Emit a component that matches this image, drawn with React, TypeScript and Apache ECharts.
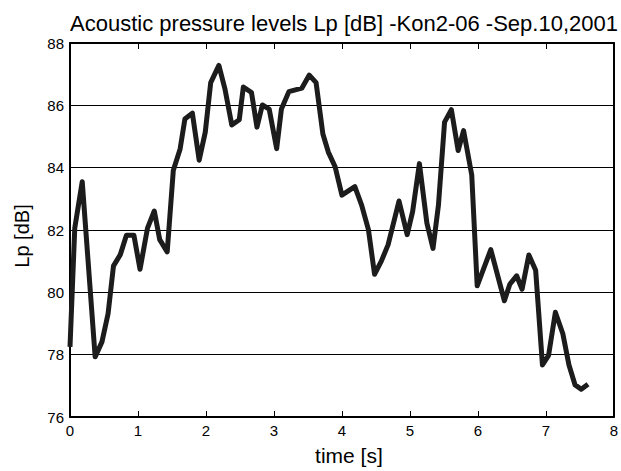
import React, { useEffect, useRef } from "react";
import * as echarts from "echarts";

const times = [0.0, 0.07, 0.18, 0.37, 0.47, 0.56, 0.64, 0.74, 0.83, 0.94, 1.03, 1.14, 1.24, 1.32, 1.43, 1.52, 1.62, 1.69, 1.8, 1.9, 1.99, 2.07, 2.19, 2.28, 2.38, 2.49, 2.55, 2.67, 2.75, 2.83, 2.93, 3.04, 3.11, 3.22, 3.41, 3.52, 3.62, 3.72, 3.8, 3.9, 4.0, 4.19, 4.29, 4.39, 4.48, 4.58, 4.68, 4.84, 4.96, 5.04, 5.14, 5.25, 5.34, 5.42, 5.51, 5.61, 5.71, 5.79, 5.91, 5.99, 6.19, 6.39, 6.47, 6.57, 6.65, 6.75, 6.85, 6.95, 7.04, 7.14, 7.25, 7.34, 7.43, 7.52, 7.62];
const levels = [78.25, 82.06, 83.55, 77.93, 78.41, 79.31, 80.85, 81.21, 81.83, 81.83, 80.74, 82.06, 82.61, 81.69, 81.3, 83.92, 84.6, 85.56, 85.75, 84.24, 85.14, 86.73, 87.28, 86.52, 85.37, 85.54, 86.59, 86.41, 85.3, 86.01, 85.88, 84.61, 85.88, 86.44, 86.55, 86.97, 86.73, 85.08, 84.5, 84.03, 83.12, 83.39, 82.8, 82.01, 80.58, 81.0, 81.53, 82.93, 81.85, 82.59, 84.13, 82.22, 81.41, 82.8, 85.46, 85.86, 84.55, 85.19, 83.76, 80.21, 81.37, 79.73, 80.26, 80.53, 80.1, 81.2, 80.71, 77.67, 77.98, 79.36, 78.67, 77.67, 77.03, 76.89, 77.05];

const titleText = "Acoustic pressure levels Lp [dB] -Kon2-06 -Sep.10,2001";
const xName = "time [s]";
const yName = "Lp [dB]";

export default function App() {
  const ref = useRef<HTMLDivElement>(null);
  useEffect(() => {
    if (!ref.current) return;
    const chart = echarts.init(ref.current, null, { renderer: "svg" });
    const font = "'Liberation Sans', Arial, sans-serif";
    const axisLine = { show: true, onZero: false, lineStyle: { color: "#000", width: 2 } };
    chart.setOption({
      animation: false,
      backgroundColor: "#fff",
      title: {
        text: titleText,
        left: 339,
        textAlign: "center",
        top: 7,
        textStyle: { fontFamily: font, fontSize: 22, fontWeight: "normal", color: "#000" },
      },
      grid: { left: 70, right: 7, top: 43, bottom: 50, containLabel: false },
      xAxis: [
        {
          type: "value",
          min: 0,
          max: 8,
          interval: 1,
          position: "bottom",
          name: xName,
          nameLocation: "middle",
          nameGap: 28,
          nameTextStyle: { fontFamily: font, fontSize: 21, color: "#000", padding: [0, 0, 0, 14] },
          axisLine,
          axisTick: { show: true, inside: true, length: 6, lineStyle: { color: "#000", width: 1 } },
          axisLabel: { fontFamily: font, fontSize: 15, color: "#000", margin: 6 },
          splitLine: { show: false },
        },
        {
          type: "value",
          min: 0,
          max: 8,
          interval: 1,
          position: "top",
          axisLine,
          axisTick: { show: true, inside: true, length: 6, lineStyle: { color: "#000", width: 1 } },
          axisLabel: { show: false },
          splitLine: { show: false },
        },
      ],
      yAxis: [
        {
          type: "value",
          min: 76,
          max: 88,
          interval: 2,
          position: "left",
          name: yName,
          nameLocation: "middle",
          nameGap: 38,
          nameRotate: 90,
          nameTextStyle: { fontFamily: font, fontSize: 20, color: "#000", padding: [0, 12, 0, 0] },
          axisLine,
          axisTick: { show: false },
          axisLabel: { fontFamily: font, fontSize: 15, color: "#000", margin: 6 },
          splitLine: { show: true, lineStyle: { color: "#000", width: 1 } },
        },
        {
          type: "value",
          min: 76,
          max: 88,
          interval: 2,
          position: "right",
          axisLine,
          axisTick: { show: false },
          axisLabel: { show: false },
          splitLine: { show: false },
        },
      ],
      series: [
        {
          type: "line",
          data: times.map((t, i) => [t, levels[i]]),
          showSymbol: false,
          symbol: "none",
          lineStyle: { color: "#1c1c1c", width: 5, join: "round" },
        },
      ],
    });
    return () => chart.dispose();
  }, []);
  return <div ref={ref} style={{ width: 621, height: 471, position: "absolute", left: 0, top: 0 }} />;
}
